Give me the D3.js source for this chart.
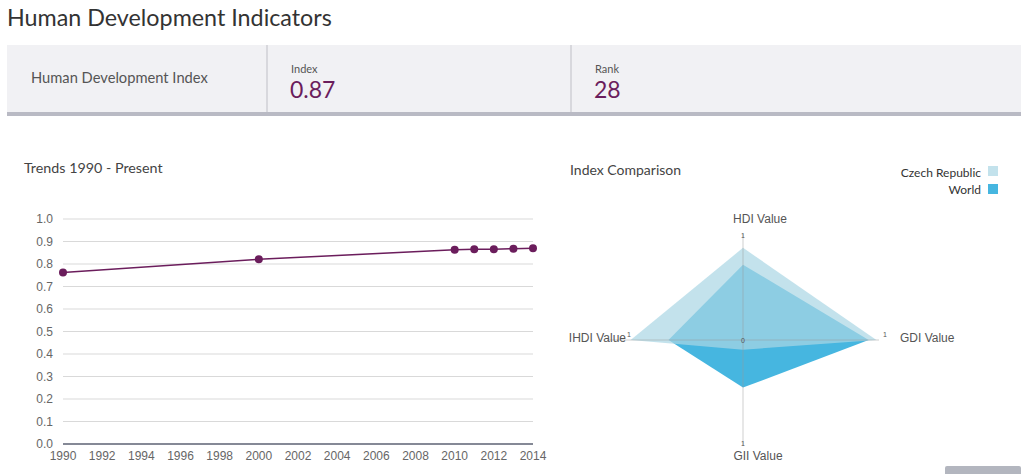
<!DOCTYPE html>
<html><head><meta charset="utf-8">
<script src="https://cdn.jsdelivr.net/npm/d3@7"></script>
<style>
html,body{margin:0;padding:0;background:#fff;}
svg{display:block;}
</style></head>
<body>
<svg id="c" width="1024" height="474"></svg>
<script>
// ---- data ----
const years = [1990, 2000, 2010, 2011, 2012, 2013, 2014];
const hdiValues = [0.762, 0.821, 0.863, 0.866, 0.866, 0.868, 0.870];
const yTicks = [0, 0.1, 0.2, 0.3, 0.4, 0.5, 0.6, 0.7, 0.8, 0.9, 1.0];
const xTicks = [1990, 1992, 1994, 1996, 1998, 2000, 2002, 2004, 2006, 2008, 2010, 2012, 2014];
const radarAxes = ["HDI Value", "GDI Value", "GII Value", "IHDI Value"];
const czechValues = [0.870, 0.981, 0.091, 0.826];
const worldValues = [0.711, 0.924, 0.449, 0.548];
const seriesNames = ["Czech Republic", "World"];
const headerIndex = "0.87";
const headerRank = "28";

const svg = d3.select("#c");
const font = "'Source Sans Pro', Lato, 'Open Sans', sans-serif";

// ---- header ----
svg.append("text").attr("x", 7).attr("y", 26).attr("font-family", font)
  .attr("font-size", 23.3).attr("fill", "#333").text("Human Development Indicators");
svg.append("rect").attr("x", 7).attr("y", 45).attr("width", 1014).attr("height", 68).attr("fill", "#f1f1f4");
svg.append("rect").attr("x", 7).attr("y", 112).attr("width", 1014).attr("height", 4).attr("fill", "#b9bac4");
[267, 571].forEach(x => svg.append("line").attr("x1", x).attr("x2", x).attr("y1", 45).attr("y2", 112)
  .attr("stroke", "#cfcfd6").attr("stroke-width", 1.5));
svg.append("text").attr("x", 31).attr("y", 83).attr("font-family", font).attr("font-size", 14.7)
  .attr("fill", "#555").text("Human Development Index");
svg.append("text").attr("x", 291).attr("y", 73).attr("font-family", font).attr("font-size", 11)
  .attr("fill", "#555").text("Index");
svg.append("text").attr("x", 290).attr("y", 98).attr("font-family", font).attr("font-size", 23)
  .attr("fill", "#6b1d5c").text(headerIndex);
svg.append("text").attr("x", 595).attr("y", 73).attr("font-family", font).attr("font-size", 11)
  .attr("fill", "#555").text("Rank");
svg.append("text").attr("x", 594).attr("y", 98).attr("font-family", font).attr("font-size", 23)
  .attr("fill", "#6b1d5c").text(headerRank);

// ---- line chart ----
svg.append("text").attr("x", 24).attr("y", 173).attr("font-family", font).attr("font-size", 14.3)
  .attr("fill", "#444").text("Trends 1990 - Present");

const x = d3.scaleLinear().domain([1990, 2014]).range([63, 533]);
const y = d3.scaleLinear().domain([0, 1]).range([444, 219]);
const axisFont = "'Liberation Sans', Arial, sans-serif";

const gy = svg.append("g");
yTicks.forEach(t => {
  if (t > 0) gy.append("line").attr("x1", 63).attr("x2", 533).attr("y1", y(t)).attr("y2", y(t))
    .attr("stroke", "#d9d9d9").attr("stroke-width", 1);
  gy.append("text").attr("x", 53).attr("y", y(t) + 4).attr("text-anchor", "end")
    .attr("font-family", axisFont).attr("font-size", 12).attr("fill", "#666").text(t.toFixed(1));
});
svg.append("line").attr("x1", 63).attr("x2", 533).attr("y1", y(0)).attr("y2", y(0))
  .attr("stroke", "#5c6273").attr("stroke-width", 1.5);
xTicks.forEach(t => {
  svg.append("text").attr("x", x(t)).attr("y", 460).attr("text-anchor", "middle")
    .attr("font-family", axisFont).attr("font-size", 12).attr("fill", "#666").text(t);
});
const pts = years.map((yr, i) => [yr, hdiValues[i]]);
svg.append("path").datum(pts)
  .attr("d", d3.line().x(d => x(d[0])).y(d => y(d[1])))
  .attr("fill", "none").attr("stroke", "#6b1d5c").attr("stroke-width", 1.5);
svg.selectAll("circle.pt").data(pts).enter().append("circle")
  .attr("cx", d => x(d[0])).attr("cy", d => y(d[1])).attr("r", 4).attr("fill", "#6b1d5c");

// ---- radar chart ----
svg.append("text").attr("x", 570).attr("y", 175).attr("font-family", font).attr("font-size", 14)
  .attr("fill", "#444").text("Index Comparison");

// legend
svg.append("text").attr("x", 981).attr("y", 177).attr("text-anchor", "end").attr("font-family", font)
  .attr("font-size", 12).attr("fill", "#333").text(seriesNames[0]);
svg.append("rect").attr("x", 988).attr("y", 166).attr("width", 10).attr("height", 10).attr("fill", "#c3e2ec");
svg.append("text").attr("x", 981).attr("y", 194).attr("text-anchor", "end").attr("font-family", font)
  .attr("font-size", 12).attr("fill", "#333").text(seriesNames[1]);
svg.append("rect").attr("x", 988).attr("y", 184).attr("width", 10).attr("height", 10).attr("fill", "#46b6e0");

const cx = 743, cy = 340;
const rx = d3.scaleLinear().domain([0, 1]).range([0, 136]);
const ry = d3.scaleLinear().domain([0, 1]).range([0, 106]);
const dirs = [[0, -1], [1, 0], [0, 1], [-1, 0]];
const pt = (v, i) => [cx + dirs[i][0] * rx(v), cy + dirs[i][1] * ry(v)];
const poly = vals => "M" + vals.map((v, i) => pt(v, i).join(",")).join("L") + "Z";

svg.append("path").attr("d", poly(worldValues)).attr("fill", "#46b6e0");
svg.append("path").attr("d", poly(czechValues)).attr("fill", "rgb(170,214,228)").attr("fill-opacity", 0.71);

// axes lines
radarAxes.forEach((a, i) => {
  const e = pt(1, i);
  svg.append("line").attr("x1", cx).attr("y1", cy).attr("x2", e[0]).attr("y2", e[1])
    .attr("stroke", "#999").attr("stroke-width", 0.6).attr("stroke-opacity", 0.8);
});
// tick labels "1" and "0"
const small = (tx, ty, s, anchor) => svg.append("text").attr("x", tx).attr("y", ty)
  .attr("text-anchor", anchor || "middle").attr("font-family", axisFont).attr("font-size", 7)
  .attr("fill", "#555").text(s);
small(cx, 238, "1");
small(885, 337, "1");
small(cx, 446, "1");
small(629, 337, "1");
small(cx, 343, "0");

// axis names
const lab = (tx, ty, s, anchor) => svg.append("text").attr("x", tx).attr("y", ty)
  .attr("text-anchor", anchor).attr("font-family", axisFont).attr("font-size", 12)
  .attr("fill", "#555").text(s);
lab(cx + 17, 223, radarAxes[0], "middle");
lab(900, 342, radarAxes[1], "start");
lab(cx + 15, 460, radarAxes[2], "middle");
lab(626, 342, radarAxes[3], "end");

// bottom-right button fragment
svg.append("rect").attr("x", 945).attr("y", 466).attr("width", 76).attr("height", 12).attr("rx", 2)
  .attr("fill", "#b3b6bf");
</script>
</body></html>
